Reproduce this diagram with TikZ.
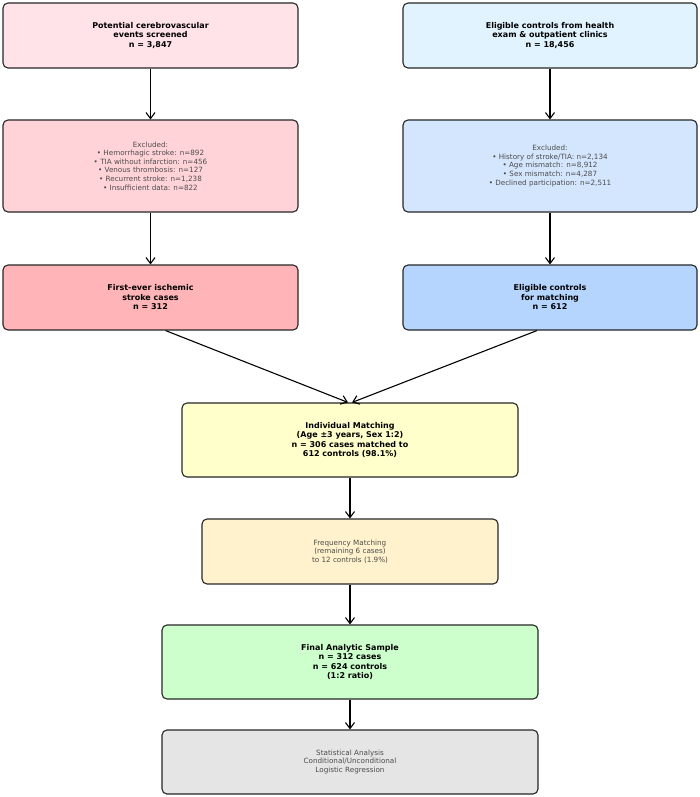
\documentclass[tikz,border=0pt]{standalone}
\usepackage{fontspec}
\setmainfont{DejaVu Sans}
\usetikzlibrary{positioning}
\usetikzlibrary{arrows.meta}
\definecolor{pinkA}{HTML}{FFE3E8}
\definecolor{pinkB}{HTML}{FFD3D8}
\definecolor{pinkC}{HTML}{FFB5B8}
\definecolor{blueA}{HTML}{E1F3FE}
\definecolor{blueB}{HTML}{D4E6FD}
\definecolor{blueC}{HTML}{B5D5FE}
\definecolor{yelA}{HTML}{FFFFCC}
\definecolor{yelB}{HTML}{FFF2CC}
\definecolor{grnA}{HTML}{CCFFCC}
\definecolor{gryA}{HTML}{E5E5E5}
\tikzset{
  box/.style={draw=black!85, line width=1.1pt, rounded corners=5pt, align=center, inner sep=0pt},
  main/.style={box, font=\fontsize{8}{9.5}\selectfont\bfseries},
  note/.style={box, text=black!70, font=\fontsize{7.2}{8.6}\selectfont},
  flow/.style={-{Straight Barb[length=6pt,width=9pt]}, line width=1.1pt}
}
\begin{document}
\begin{tikzpicture}[x=1pt,y=-1pt]
  \useasboundingbox (0,0) rectangle (700,797);
  \node[main, fill=pinkA, minimum width=295, minimum height=65] (scr) at (150.5,35.5) {Potential cerebrovascular\\events screened\\n = 3,847};
  \node[main, fill=blueA, minimum width=294, minimum height=65] (ctl) at (550,35.5) {Eligible controls from health\\exam \& outpatient clinics\\n = 18,456};
  \node[note, fill=pinkB, minimum width=295, minimum height=92] (exl) at (150.5,166) {Excluded:\\• Hemorrhagic stroke: n=892\\• TIA without infarction: n=456\\• Venous thrombosis: n=127\\• Recurrent stroke: n=1,238\\• Insufficient data: n=822};
  \node[note, fill=blueB, minimum width=294, minimum height=92] (exr) at (550,166) {Excluded:\\• History of stroke/TIA: n=2,134\\• Age mismatch: n=8,912\\• Sex mismatch: n=4,287\\• Declined participation: n=2,511};
  \node[main, fill=pinkC, minimum width=295, minimum height=65] (cas) at (150.5,297.5) {First-ever ischemic\\stroke cases\\n = 312};
  \node[main, fill=blueC, minimum width=294, minimum height=65] (elc) at (550,297.5) {Eligible controls\\for matching\\n = 612};
  \node[main, fill=yelA, minimum width=336, minimum height=74] (ind) at (350,440) {Individual Matching\\(Age ±3 years, Sex 1:2)\\n = 306 cases matched to\\612 controls (98.1\%)};
  \node[note, fill=yelB, minimum width=296, minimum height=65] (frq) at (350,551.5) {Frequency Matching\\(remaining 6 cases)\\to 12 controls (1.9\%)};
  \node[main, fill=grnA, minimum width=376, minimum height=74] (fin) at (350,662) {Final Analytic Sample\\n = 312 cases\\n = 624 controls\\(1:2 ratio)};
  \node[note, fill=gryA, minimum width=376, minimum height=64] (sta) at (350,762) {Statistical Analysis\\Conditional/Unconditional\\Logistic Regression};
  % connectors
  \draw[flow] (scr) -- (exl);
  \draw[flow] (exl) -- (cas);
  \draw[flow] (ctl) -- (exr);
  \draw[flow] (exr) -- (elc);
  \draw[flow] (cas.south) ++(15,0) -- ([xshift=-2]ind.north);
  \draw[flow] (elc.south) ++(-13,0) -- ([xshift=2]ind.north);
  \draw[flow] (ind) -- (frq);
  \draw[flow] (frq) -- (fin);
  \draw[flow] (fin) -- (sta);
\end{tikzpicture}
\end{document}
